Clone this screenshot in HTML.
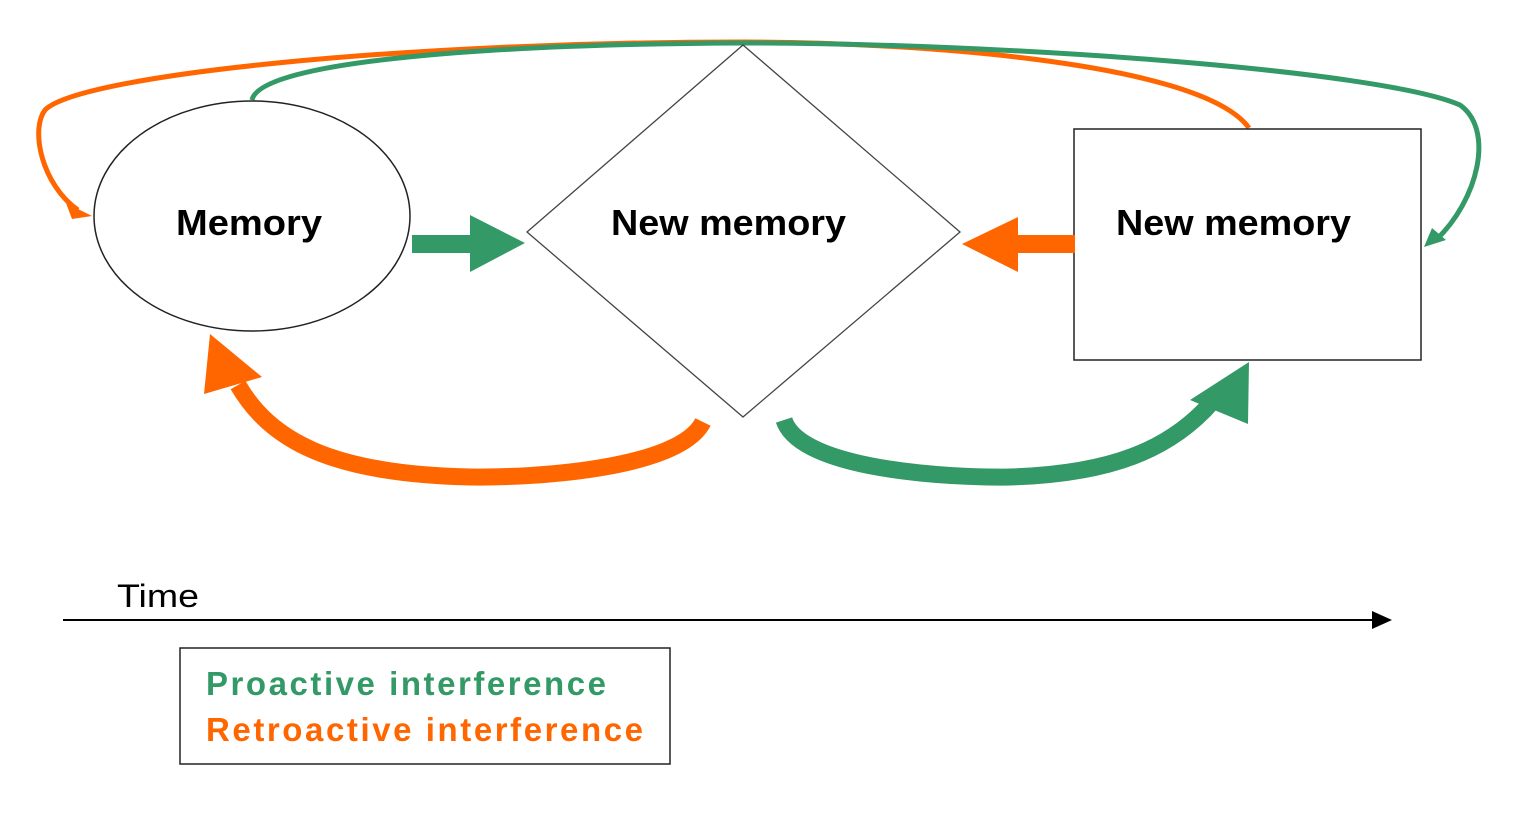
<!DOCTYPE html>
<html><head><style>body{margin:0;background:#fff}svg{display:block}</style></head>
<body>
<svg width="1521" height="839" viewBox="0 0 1521 839" xmlns="http://www.w3.org/2000/svg" font-family="Liberation Sans, Arial, sans-serif">
<rect width="1521" height="839" fill="#fff"/>
<path d="M1249,128 C1200,60 900,42 743,42 C400,42 80,75 45,110 C30,130 42,185 78,210" fill="none" stroke="#FF6600" stroke-width="5"/>
<polygon points="92,216 66,203 72,219" fill="#FF6600"/>
<path d="M252,100 C260,60 500,44 743,43 C1000,43 1380,70 1460,105 C1495,130 1478,200 1436,240" fill="none" stroke="#339966" stroke-width="5"/>
<polygon points="1424,247 1432,228 1446,240" fill="#339966"/>
<ellipse cx="252" cy="216" rx="158" ry="115" fill="#fff" stroke="#222" stroke-width="1.5"/>
<polygon points="743,45 960,232 743,417 527,232" fill="#fff" stroke="#444" stroke-width="1.3"/>
<rect x="1074" y="129" width="347" height="231" fill="#fff" stroke="#222" stroke-width="1.5"/>
<text x="176" y="235" font-size="36" font-weight="bold" textLength="146" lengthAdjust="spacingAndGlyphs">Memory</text>
<text x="611" y="235" font-size="36" font-weight="bold" textLength="235" lengthAdjust="spacingAndGlyphs">New memory</text>
<text x="1116" y="235" font-size="36" font-weight="bold" textLength="235" lengthAdjust="spacingAndGlyphs">New memory</text>
<polygon points="412,235 470,235 470,215 525,243 470,272 470,253 412,253" fill="#339966"/>
<polygon points="1075,235 1018,235 1018,217 962,244 1018,272 1018,253 1075,253" fill="#FF6600"/>
<path d="M703,422 C680,468 540,478 470,477 C330,474 270,440 238,385" fill="none" stroke="#FF6600" stroke-width="17"/>
<polygon points="210,334 204,394 262,377" fill="#FF6600"/>
<path d="M784,420 C800,470 950,478 1010,477 C1110,474 1170,450 1212,402" fill="none" stroke="#339966" stroke-width="17"/>
<polygon points="1249,362 1190,400 1248,424" fill="#339966"/>
<text x="117" y="607" font-size="32" textLength="82" lengthAdjust="spacingAndGlyphs">Time</text>
<line x1="63" y1="620" x2="1378" y2="620" stroke="#000" stroke-width="2"/>
<polygon points="1392,620 1372,611 1372,629" fill="#000"/>
<rect x="180" y="648" width="490" height="116" fill="#fff" stroke="#222" stroke-width="1.5"/>
<text x="206" y="695" font-size="33" font-weight="bold" fill="#339966" textLength="400" lengthAdjust="spacing">Proactive interference</text>
<text x="206" y="741" font-size="33" font-weight="bold" fill="#FF6600" textLength="437" lengthAdjust="spacing">Retroactive interference</text>
</svg>
</body></html>
